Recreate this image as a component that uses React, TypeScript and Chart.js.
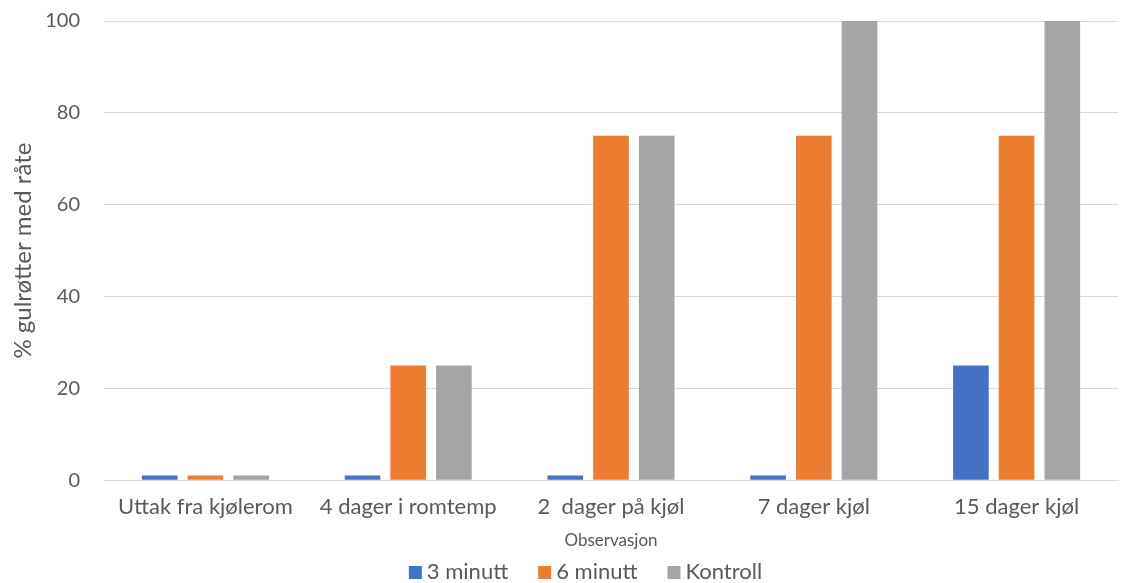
import React, { useEffect, useRef } from "react";
import { Chart, registerables } from "chart.js";

Chart.register(...registerables);

const categories = [
  "Uttak fra kjølerom",
  "4 dager i romtemp",
  "2  dager på kjøl",
  "7 dager kjøl",
  "15 dager kjøl",
];
const treat3min = [1, 1, 1, 1, 25];
const treat6min = [1, 25, 75, 75, 75];
const control = [1, 25, 75, 100, 100];

const FONT = "Lato, 'Open Sans', sans-serif";
const TEXT = "#595959";
const SHIFT = 15; // canvas is pulled up by this much so the plot starts near the top edge

// Legend row under the axis title: square swatch, short gap, label, wide gap.
const bottomLegend = {
  id: "bottomLegend",
  afterDraw(chart: any) {
    const { ctx, width, height } = chart;
    const box = 13;
    const gap = 5;
    const spacing = 30;
    ctx.save();
    ctx.font = `22px ${FONT}`;
    const items = chart.data.datasets.map((d: any) => ({
      text: d.label as string,
      color: d.backgroundColor as string,
      w: ctx.measureText(d.label).width,
    }));
    const total =
      items.reduce((s: number, it: any) => s + box + gap + it.w, 0) +
      spacing * (items.length - 1);
    let x = width / 2 + 23 - total / 2;
    const baseline = height - 4;
    ctx.textBaseline = "alphabetic";
    ctx.textAlign = "left";
    for (const it of items) {
      ctx.fillStyle = it.color;
      ctx.fillRect(x, baseline - 13, box, box);
      x += box + gap;
      ctx.fillStyle = TEXT;
      ctx.fillText(it.text, x, baseline);
      x += it.w + spacing;
    }
    ctx.restore();
  },
};

export default function App() {
  const ref = useRef<HTMLCanvasElement>(null);

  useEffect(() => {
    const ctx = ref.current!.getContext("2d")!;
    const chart = new Chart(ctx, {
      type: "bar",
      data: {
        labels: categories,
        datasets: [
          { label: "3 minutt", data: treat3min, backgroundColor: "#4472C4" },
          { label: "6 minutt", data: treat6min, backgroundColor: "#ED7D31" },
          { label: "Kontroll", data: control, backgroundColor: "#A5A5A5" },
        ],
      },
      plugins: [bottomLegend],
      options: {
        animation: false,
        responsive: false,
        maintainAspectRatio: false,
        layout: { padding: { top: -12, right: 7, left: 4, bottom: 32 } },
        datasets: {
          bar: { categoryPercentage: 0.676, barPercentage: 0.78 },
        },
        plugins: {
          legend: { display: false },
          tooltip: { enabled: false },
        },
        scales: {
          x: {
            grid: { display: false },
            border: { color: "#D9D9D9", width: 1 },
            ticks: {
              color: TEXT,
              padding: 6,
              font: { family: FONT, size: 22 },
            },
            title: {
              display: true,
              text: "Observasjon",
              color: TEXT,
              font: { family: FONT, size: 17 },
              padding: { top: 4, bottom: 0 },
            },
          },
          y: {
            min: 0,
            max: 100,
            afterFit: (scale: any) => {
              scale.width = 100;
            },
            ticks: {
              stepSize: 20,
              color: TEXT,
              padding: 24,
              font: { family: FONT, size: 20 },
            },
            grid: { color: "#D9D9D9", drawTicks: false },
            border: { display: false },
            title: {
              display: true,
              text: "% gulrøtter med råte",
              color: TEXT,
              font: { family: FONT, size: 24 },
              padding: { top: 5, bottom: 0 },
            },
          },
        },
      },
    });
    return () => chart.destroy();
  }, []);

  return (
    <div
      style={{
        position: "fixed",
        left: 0,
        top: 0,
        width: 1125,
        height: 583,
        overflow: "hidden",
        background: "#fff",
      }}
    >
      <canvas
        ref={ref}
        width={1125}
        height={583 + SHIFT}
        style={{ position: "absolute", left: 0, top: -SHIFT }}
      />
    </div>
  );
}
